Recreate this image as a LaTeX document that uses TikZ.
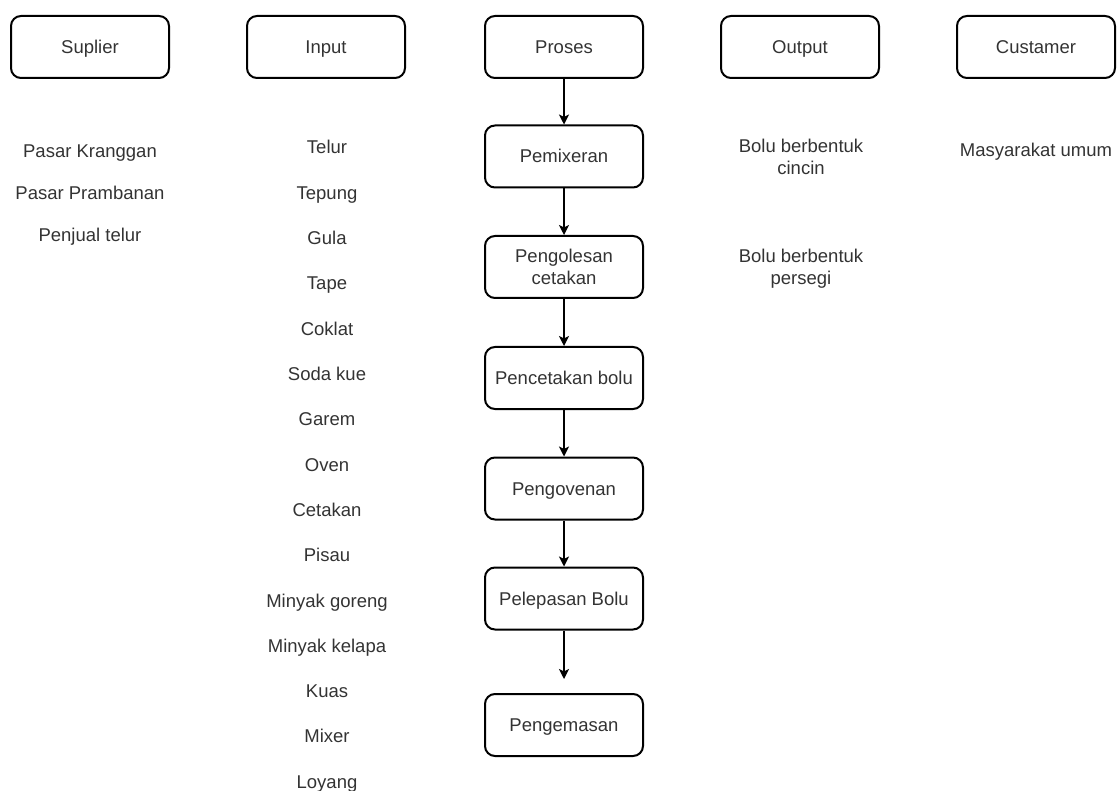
\documentclass[tikz,border=0pt]{standalone}
\usepackage{fontspec}
\setmainfont{Liberation Sans}
\usetikzlibrary{arrows.meta}
\definecolor{txt}{HTML}{333333}
\begin{document}
\begin{tikzpicture}[x=1pt,y=-1pt,
  box/.style={draw=black,line width=2pt,rounded corners=10pt,minimum width=158pt,minimum height=62pt,inner sep=0pt,align=center,text=txt,font=\fontsize{18.5}{22}\selectfont},
  one/.style={text height=15pt,text depth=2pt},
  lbl/.style={anchor=base,inner sep=0pt,text=txt,align=center,font=\fontsize{18.5}{22}\selectfont},
  flow/.style={line width=1.3pt,-{Stealth[length=10pt,width=10pt,inset=2.5pt]}}]
\useasboundingbox (0,0) rectangle (1119,791);
% headers
\node[box,one] (sup) at (90,47) {Suplier};
\node[box,one] (inp) at (326,47) {Input};
\node[box,one] (pro) at (564,47) {Proses};
\node[box,one] (out) at (800,47) {Output};
\node[box,one] (cus) at (1036,47) {Custamer};
% process steps
\node[box,one] (p1) at (564,156.5) {Pemixeran};
\node[box] (p2) at (564,267) {Pengolesan\\cetakan};
\node[box,one] (p3) at (564,378) {Pencetakan bolu};
\node[box,one] (p4) at (564,488.5) {Pengovenan};
\node[box,one] (p5) at (564,598.5) {Pelepasan Bolu};
\node[box,one] (p6) at (564,725) {Pengemasan};
\coordinate (end5) at (564,679);
\draw[flow] (pro) -- (p1);
\draw[flow] (p1) -- (p2);
\draw[flow] (p2) -- (p3);
\draw[flow] (p3) -- (p4);
\draw[flow] (p4) -- (p5);
\draw[flow] (p5.south) -- (end5);
% supplier list
\node[lbl] (s1) at (90,158) {Pasar Kranggan};
\node[lbl] (s2) at (90,200) {Pasar Prambanan};
\node[lbl] (s3) at (90,242) {Penjual telur};
% input list
\foreach \t [count=\i from 0] in {Telur,Tepung,Gula,Tape,Coklat,Soda kue,Garem,Oven,Cetakan,Pisau,Minyak goreng,Minyak kelapa,Kuas,Mixer,Loyang}
  \node[lbl] (i\i) at (327,154+45.3*\i) {\t};
% output list
\node[lbl] (o1) at (801,175) {Bolu berbentuk\\cincin};
\node[lbl] (o2) at (801,285) {Bolu berbentuk\\persegi};
% customer
\node[lbl] (c1) at (1036,157) {Masyarakat umum};
\end{tikzpicture}
\end{document}
